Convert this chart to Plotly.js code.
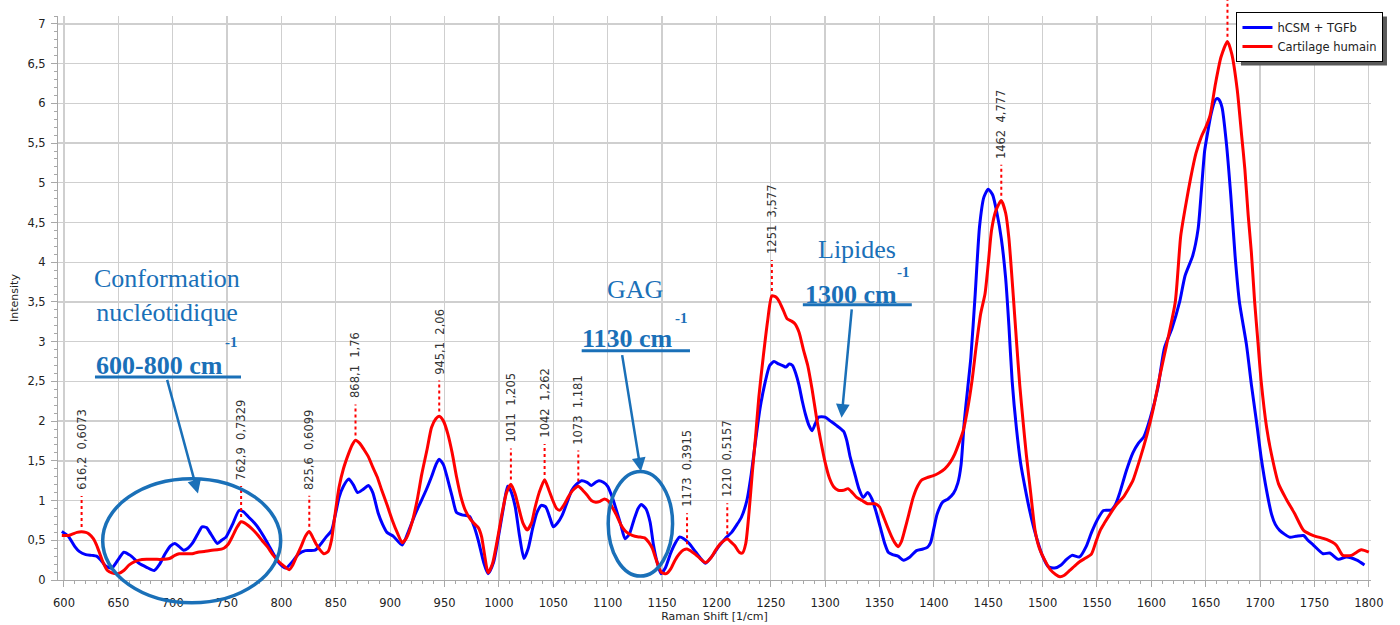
<!DOCTYPE html>
<html>
<head>
<meta charset="utf-8">
<script src="https://cdn.plot.ly/plotly-3.0.1.min.js"></script>
<style>html,body{margin:0;padding:0;background:#fff;}#chart{width:1400px;height:625px;}</style>
</head>
<body>
<div id="chart"></div>
<script>
// ---- Data ----
const seriesNames = ['hCSM + TGFb', 'Cartilage humain'];

const shiftBlue = [598,604,610,614,620,626,630,634,638,644,650,655,661,669,676,683,688,693,698,702,706,710,714,718,723,727,731,735,741,745,749,755,761,765,770,775,779,784,789,793,798,804,810,816,822,831,836,841,846,850,853,857,862,866,870,875,880,884,889,893,897,903,911,917,923,928,933,938,942,945,949,953,957,961,966,973,977,981,986,990,995,999,1004,1008,1011,1015,1019,1023,1027,1031,1035,1039,1043,1047,1050,1054,1058,1062,1067,1071,1076,1081,1085,1089,1092,1096,1100,1104,1108,1112,1116,1120,1124,1128,1131,1135,1139,1142,1145,1149,1153,1158,1162,1166,1170,1175,1180,1185,1190,1196,1202,1208,1214,1219,1223,1228,1232,1236,1240,1245,1249,1253,1257,1261,1264,1267,1270,1273,1276,1279,1282,1285,1288,1291,1294,1300,1305,1310,1317,1320,1323,1327,1331,1335,1339,1343,1347,1351,1355,1358,1362,1367,1372,1378,1384,1390,1394,1397,1400,1403,1408,1413,1418,1422,1425,1428,1431,1434,1438,1442,1446,1450,1454,1458,1462,1466,1469,1472,1476,1480,1484,1488,1492,1496,1500,1505,1511,1517,1522,1527,1534,1540,1545,1550,1556,1563,1567,1571,1577,1583,1588,1593,1599,1606,1612,1619,1626,1631,1638,1643,1646,1649,1652,1655,1658,1660,1662,1665,1669,1673,1677,1681,1687.5,1692,1697,1701,1706,1710.5,1714,1718,1727,1733,1740,1744,1749,1758,1764,1772,1779.5,1789,1796];
const intensityBlue = [0.61,0.55,0.42,0.36,0.32,0.31,0.30,0.25,0.18,0.15,0.26,0.35,0.31,0.21,0.16,0.12,0.20,0.33,0.43,0.46,0.42,0.375,0.40,0.46,0.58,0.67,0.66,0.58,0.46,0.50,0.54,0.70,0.875,0.86,0.79,0.72,0.65,0.54,0.42,0.32,0.21,0.15,0.23,0.33,0.37,0.375,0.45,0.54,0.62,0.85,1.04,1.18,1.27,1.20,1.10,1.14,1.19,1.10,0.84,0.70,0.60,0.55,0.44,0.62,0.83,0.98,1.13,1.30,1.45,1.52,1.45,1.26,1.05,0.85,0.82,0.80,0.68,0.50,0.22,0.08,0.22,0.50,0.90,1.18,1.12,0.92,0.55,0.27,0.40,0.65,0.85,0.94,0.92,0.78,0.67,0.72,0.81,0.95,1.13,1.20,1.25,1.23,1.19,1.23,1.25,1.23,1.18,1.05,0.88,0.70,0.52,0.58,0.75,0.90,0.95,0.90,0.73,0.45,0.25,0.08,0.15,0.34,0.46,0.54,0.52,0.46,0.37,0.28,0.21,0.30,0.42,0.52,0.60,0.70,0.79,1.00,1.33,1.75,2.15,2.50,2.70,2.75,2.72,2.70,2.68,2.72,2.70,2.60,2.45,2.25,2.08,1.95,1.88,1.97,2.05,2.05,2.00,1.95,1.87,1.75,1.55,1.35,1.15,1.04,1.10,1.02,0.85,0.65,0.45,0.35,0.32,0.30,0.25,0.29,0.37,0.39,0.41,0.47,0.65,0.83,0.98,1.02,1.09,1.22,1.45,2.00,2.40,2.80,3.60,4.45,4.82,4.92,4.85,4.62,4.30,3.80,3.20,2.50,1.90,1.45,1.15,0.88,0.65,0.46,0.30,0.17,0.15,0.19,0.26,0.31,0.29,0.42,0.60,0.75,0.875,0.88,0.95,1.10,1.375,1.60,1.72,1.80,2.04,2.42,2.92,3.17,3.50,3.83,4.08,4.42,4.90,5.40,5.65,5.87,6.02,6.06,6.05,5.95,5.50,4.85,4.08,3.50,2.96,2.46,1.96,1.54,1.125,0.83,0.70,0.625,0.54,0.55,0.56,0.50,0.44,0.33,0.34,0.26,0.29,0.25,0.19];

const shiftRed = [598,604,608,612,616.2,620,623,627,630,633,636,640,644,650,655,660,665,669,676,684,690,697,702,706,712,718,723,729,736,741,747,751,755,759,762.9,766,770,774,778,782,787,792,797,801,807,810,814,818,822,825.6,829,832,836,839,843,846,849,853,857,862,865,868.1,872,876,880,884,888,892,897,902,907,911,915,920,925,929,934,938,942,945.1,949,953,957,961,965,969,974,978,981,984,987,990,994,999,1003,1007,1011,1015,1018,1022,1026,1030,1033,1037,1042,1046,1049,1053,1056,1060,1064,1068,1073,1077,1081,1085,1089,1093,1097,1101,1104,1108,1112,1116,1120,1125,1130,1134,1138,1141,1144,1147,1150,1154,1158,1162,1166,1170,1173,1177,1181,1185,1190,1195,1199,1204,1210,1214,1217,1221,1224,1227,1230,1233,1236,1239,1243,1247,1251,1255,1258,1262,1265,1269,1272,1276,1280,1284,1288,1292,1296,1300,1304,1308,1312,1317,1321,1325,1329,1334,1339,1346,1350,1353,1357,1361,1364,1367,1370,1373,1377,1381,1385,1389,1394,1399,1405,1410,1415,1419,1423,1427,1431,1435,1439,1443,1447,1450,1453,1457,1462,1466,1469,1473,1476,1479,1482,1485,1489,1493,1497,1502,1507,1512,1516,1520,1525,1529,1534,1540,1545,1549,1553,1557,1562,1568,1574,1579,1583,1589,1596,1602,1608,1614,1622,1627,1632,1636,1641,1646,1650,1654,1659,1664,1670,1674,1679,1683,1686,1689,1692,1695,1698,1701,1706,1710.5,1717,1724,1732,1740,1749,1761,1770,1776,1784,1793,1800];
const intensityRed = [0.56,0.56,0.58,0.60,0.6073,0.60,0.58,0.52,0.44,0.33,0.22,0.12,0.09,0.08,0.12,0.19,0.23,0.25,0.26,0.26,0.26,0.27,0.31,0.33,0.33,0.33,0.35,0.36,0.375,0.38,0.40,0.45,0.55,0.66,0.7329,0.72,0.68,0.63,0.57,0.50,0.42,0.32,0.24,0.19,0.13,0.18,0.30,0.42,0.55,0.6099,0.53,0.45,0.37,0.33,0.36,0.50,0.80,1.17,1.40,1.60,1.70,1.76,1.72,1.64,1.55,1.42,1.30,1.14,0.95,0.75,0.58,0.47,0.53,0.72,1.02,1.33,1.65,1.92,2.03,2.06,2.00,1.84,1.60,1.30,1.05,0.88,0.76,0.70,0.66,0.55,0.30,0.09,0.20,0.54,0.85,1.10,1.205,1.08,0.92,0.72,0.63,0.72,0.90,1.10,1.262,1.13,1.02,0.90,0.88,0.95,1.05,1.13,1.181,1.13,1.07,1.00,0.98,0.99,1.02,0.99,0.92,0.82,0.70,0.62,0.58,0.55,0.54,0.53,0.47,0.40,0.28,0.16,0.09,0.08,0.14,0.25,0.33,0.38,0.3915,0.36,0.32,0.27,0.22,0.28,0.37,0.46,0.5157,0.47,0.43,0.35,0.34,0.46,0.85,1.35,1.80,2.30,2.80,3.25,3.577,3.56,3.50,3.38,3.29,3.26,3.23,3.12,2.90,2.70,2.40,2.05,1.75,1.48,1.28,1.17,1.13,1.13,1.15,1.10,1.04,1.00,0.96,0.96,0.92,0.82,0.68,0.55,0.47,0.42,0.48,0.62,0.83,1.04,1.18,1.26,1.29,1.31,1.35,1.40,1.48,1.58,1.72,1.88,2.15,2.50,2.95,3.35,3.60,3.98,4.40,4.65,4.777,4.62,4.30,3.58,3.00,2.45,2.00,1.58,1.10,0.63,0.40,0.25,0.13,0.07,0.04,0.06,0.12,0.17,0.23,0.28,0.33,0.48,0.625,0.72,0.83,0.95,1.04,1.15,1.25,1.50,1.83,2.17,2.58,2.96,3.50,4.33,4.75,5.05,5.37,5.58,5.70,5.85,6.25,6.58,6.78,6.62,6.17,5.60,5.17,4.60,4.12,3.50,3.00,2.50,1.92,1.58,1.21,1.02,0.83,0.625,0.56,0.51,0.44,0.31,0.31,0.38,0.35];

// Peak markers printed on the red spectrum
const peakShift = [616.2, 762.9, 825.6, 868.1, 945.1, 1011, 1042, 1073, 1173, 1210, 1251, 1462];
const peakIntensity = [0.6073, 0.7329, 0.6099, 1.76, 2.06, 1.205, 1.262, 1.181, 0.3915, 0.5157, 3.577, 4.777];
// highest peak: its label is outside the picture, only the marker is visible
const topPeakShift = 1670;
const topPeakIntensity = 6.78;

// Callouts
const calloutTitles = ['Conformation<br>nucléotidique', 'GAG', 'Lipides'];
const calloutRanges = ['600-800 cm', '1130 cm', '1300 cm'];

const xTickStart = 600, xTickStep = 50, yTickStep = 0.5;

// ---- Drawing ----
const BLUE_TXT = '#1a70b8';
const X_RANGE = [594.5, 1802];
const Y_RANGE = [0, 7.1];
const fmt = v => String(v).replace('.', ',');

const traces = [
  {x: shiftBlue, y: intensityBlue, name: seriesNames[0], type: 'scatter', mode: 'lines',
   line: {color: '#0000ff', width: 3, shape: 'spline', smoothing: 0.6}},
  {x: shiftRed, y: intensityRed, name: seriesNames[1], type: 'scatter', mode: 'lines',
   line: {color: '#ff0000', width: 3, shape: 'spline', smoothing: 0.6}}
];

const shapes = [];
const annotations = [];

// red dotted peak markers + rotated labels
peakShift.forEach((px, i) => {
  const v = peakIntensity[i];
  shapes.push({type: 'line', xref: 'x', yref: 'y', x0: px, x1: px, y0: v + 0.06, y1: v + 0.45,
    line: {color: '#ff0000', width: 2, dash: 'dot'}});
  annotations.push({xref: 'x', yref: 'y', x: px, y: v + 0.5, xanchor: 'center', yanchor: 'bottom',
    text: fmt(px) + '\u00a0\u00a0' + fmt(v), textangle: -90, showarrow: false,
    font: {family: 'DejaVu Sans', size: 11.5, color: '#333'}});
});
const toPaper = v => (v - Y_RANGE[0]) / (Y_RANGE[1] - Y_RANGE[0]);
shapes.push({type: 'line', xref: 'x', yref: 'paper', x0: topPeakShift, x1: topPeakShift,
  y0: toPaper(topPeakIntensity + 0.06), y1: 1.03, line: {color: '#ff0000', width: 2, dash: 'dot'}});

// callout geometry (wavenumber / intensity units)
const callouts = [
  {title: [694.7, 3.58], range: [687.4, 2.70], sup: [754.0, 3.0], under: [628.5, 762.8, 2.556],
   arrow: [694.5, 2.5375, 723.2, 1.0875], ell: [635.6, 799.3, -0.0405, 0.1796]},
  {title: [1125.1, 3.6625], range: [1118.2, 3.0375], sup: [1167.8, 3.30], under: [1076.1, 1175.7, 2.8875],
   arrow: [1113.1, 2.85, 1130.6, 1.366], ell: [1100.5, 1159.7, 0.007, 0.1924]},
  {title: [1329.2, 4.1625], range: [1323.7, 3.60], sup: [1372.4, 3.88], under: [1279.5, 1379.7, 3.466],
   arrow: [1324.6, 3.425, 1315.1, 2.041], ell: null}
];
callouts.forEach((c, i) => {
  annotations.push({xref: 'x', yref: 'y', x: c.title[0], y: c.title[1], text: calloutTitles[i],
    showarrow: false, align: 'center', xanchor: 'center', yanchor: 'middle',
    font: {family: 'Liberation Serif', size: 26, color: BLUE_TXT}});
  annotations.push({xref: 'x', yref: 'y', x: c.range[0], y: c.range[1], text: '<b>' + calloutRanges[i] + '</b>',
    showarrow: false, xanchor: 'center', yanchor: 'middle',
    font: {family: 'Liberation Serif', size: 26, color: BLUE_TXT}});
  annotations.push({xref: 'x', yref: 'y', x: c.sup[0], y: c.sup[1], text: '<b>-1</b>',
    showarrow: false, xanchor: 'center', yanchor: 'middle',
    font: {family: 'Liberation Serif', size: 15, color: BLUE_TXT}});
  shapes.push({type: 'line', xref: 'x', yref: 'y', x0: c.under[0], x1: c.under[1], y0: c.under[2], y1: c.under[2],
    line: {color: BLUE_TXT, width: 3}});
  annotations.push({xref: 'x', yref: 'y', axref: 'x', ayref: 'y', x: c.arrow[2], y: c.arrow[3],
    ax: c.arrow[0], ay: c.arrow[1], text: '', showarrow: true, arrowhead: 2, arrowsize: 1.1,
    arrowwidth: 2.5, arrowcolor: BLUE_TXT, standoff: 0});
  if (c.ell) {
    shapes.push({type: 'circle', xref: 'x', yref: 'paper', x0: c.ell[0], x1: c.ell[1], y0: c.ell[2], y1: c.ell[3],
      line: {color: BLUE_TXT, width: 3.5}});
  }
});

const axisCommon = {
  showgrid: true, gridcolor: '#cfcfcf', gridwidth: 1.3, zeroline: false,
  showline: true, linecolor: '#a8a8a8', linewidth: 1,
  ticks: 'outside', ticklen: 6, tickcolor: '#a8a8a8', tickwidth: 1,
  tickfont: {family: 'DejaVu Sans', size: 11.5, color: '#222'}
};

const layout = {
  width: 1400, height: 625,
  margin: {l: 58, r: 28.8, t: 12, b: 45},
  paper_bgcolor: '#ffffff', plot_bgcolor: '#ffffff',
  separators: ', ',
  font: {family: 'DejaVu Sans', size: 11, color: '#222'},
  showlegend: true,
  legend: {x: 1.0095, xanchor: 'right', y: 1.007, yanchor: 'top', bgcolor: '#ffffff',
    bordercolor: '#000000', borderwidth: 1, font: {family: 'DejaVu Sans', size: 11.5, color: '#222'},
    tracegroupgap: 0},
  xaxis: Object.assign({}, axisCommon, {
    range: X_RANGE, tick0: xTickStart, dtick: xTickStep, ticklabelstandoff: 6,
    minor: {tick0: xTickStart, dtick: 10, ticks: 'outside', ticklen: 3, tickcolor: '#a8a8a8', showgrid: false},
    title: {text: 'Raman Shift [1/cm]', font: {family: 'DejaVu Sans', size: 11, color: '#222'}, standoff: 3}
  }),
  yaxis: Object.assign({}, axisCommon, {
    range: Y_RANGE, tick0: 0, dtick: yTickStep, ticklabelstandoff: 3,
    minor: {tick0: 0, dtick: 0.1, ticks: 'outside', ticklen: 3, tickcolor: '#a8a8a8', showgrid: false},
    title: {text: 'Intensity', font: {family: 'DejaVu Sans', size: 11, color: '#222'}, standoff: 6}
  }),
  shapes: shapes,
  annotations: annotations
};

Plotly.newPlot('chart', traces, layout, {staticPlot: true, displayModeBar: false}).then(gd => {
  // drop shadow behind the legend box, sized from the drawn legend
  const bg = gd.querySelector('.legend .bg');
  if (!bg) return;
  const r = bg.getBoundingClientRect();
  const c = gd.getBoundingClientRect();
  const sz = gd._fullLayout._size;
  const toPx = (px) => (px - sz.l) / sz.w;
  const toPy = (py) => (sz.t + sz.h - py) / sz.h;
  const x0 = r.left - c.left + 4, x1 = r.right - c.left + 4;
  const y0 = r.top - c.top + 4, y1 = r.bottom - c.top + 4;
  const shadow = {type: 'rect', xref: 'paper', yref: 'paper', layer: 'above',
    x0: toPx(x0), x1: toPx(x1), y0: toPy(y1), y1: toPy(y0),
    fillcolor: '#5a5a5a', line: {width: 0}};
  Plotly.relayout(gd, {shapes: gd.layout.shapes.concat([shadow])});
});
</script>
</body>
</html>
